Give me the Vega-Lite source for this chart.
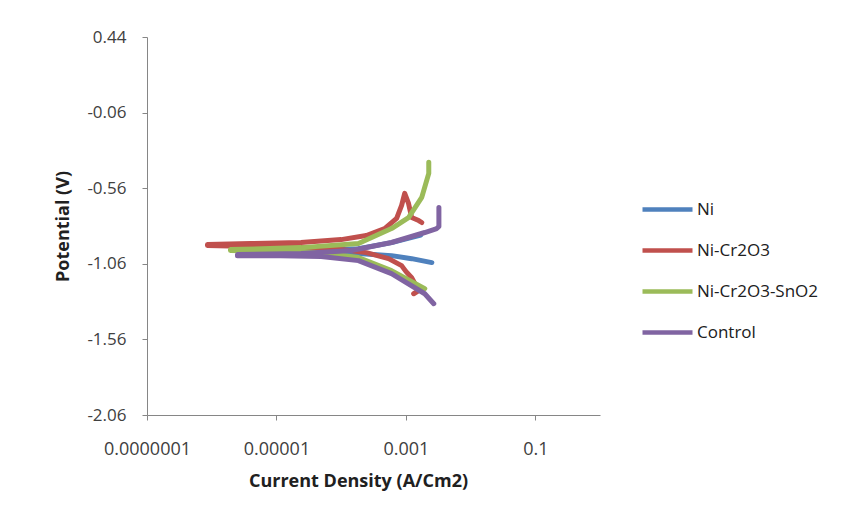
{
  "$schema": "https://vega.github.io/schema/vega-lite/v6.json",
  "width": 453,
  "height": 378,
  "autosize": {"type": "none"},
  "padding": {"left": 147, "top": 37, "right": 254, "bottom": 104},
  "background": "white",
  "config": {
    "view": {"stroke": null},
    "font": "Open Sans"
  },
  "data": {
    "values": [
      {"series": "Ni", "i": 1, "current": 2.52e-3, "potential": -1.052},
      {"series": "Ni", "i": 2, "current": 1.23e-3, "potential": -1.026},
      {"series": "Ni", "i": 3, "current": 6.0e-4, "potential": -1.006},
      {"series": "Ni", "i": 4, "current": 1.85e-4, "potential": -0.992},
      {"series": "Ni", "i": 5, "current": 2.4e-5, "potential": -0.986},
      {"series": "Ni", "i": 6, "current": 2.8e-6, "potential": -0.986},
      {"series": "Ni", "i": 7, "current": 2.8e-6, "potential": -0.979},
      {"series": "Ni", "i": 8, "current": 2.4e-5, "potential": -0.975},
      {"series": "Ni", "i": 9, "current": 1.85e-4, "potential": -0.96},
      {"series": "Ni", "i": 10, "current": 6.0e-4, "potential": -0.92},
      {"series": "Ni", "i": 11, "current": 1.7e-3, "potential": -0.87},

      {"series": "Ni-Cr2O3", "i": 1, "current": 1.32e-3, "potential": -1.258},
      {"series": "Ni-Cr2O3", "i": 2, "current": 1.58e-3, "potential": -1.238},
      {"series": "Ni-Cr2O3", "i": 3, "current": 1.23e-3, "potential": -1.152},
      {"series": "Ni-Cr2O3", "i": 4, "current": 1.0e-3, "potential": -1.11},
      {"series": "Ni-Cr2O3", "i": 5, "current": 8.6e-4, "potential": -1.072},
      {"series": "Ni-Cr2O3", "i": 6, "current": 5.4e-4, "potential": -1.026},
      {"series": "Ni-Cr2O3", "i": 7, "current": 2.45e-4, "potential": -0.986},
      {"series": "Ni-Cr2O3", "i": 8, "current": 1.0e-4, "potential": -0.966},
      {"series": "Ni-Cr2O3", "i": 9, "current": 2.4e-5, "potential": -0.953},
      {"series": "Ni-Cr2O3", "i": 10, "current": 4.0e-6, "potential": -0.946},
      {"series": "Ni-Cr2O3", "i": 11, "current": 8.6e-7, "potential": -0.939},
      {"series": "Ni-Cr2O3", "i": 12, "current": 8.6e-7, "potential": -0.933},
      {"series": "Ni-Cr2O3", "i": 13, "current": 4.0e-6, "potential": -0.926},
      {"series": "Ni-Cr2O3", "i": 14, "current": 2.4e-5, "potential": -0.919},
      {"series": "Ni-Cr2O3", "i": 15, "current": 1.0e-4, "potential": -0.9},
      {"series": "Ni-Cr2O3", "i": 16, "current": 2.45e-4, "potential": -0.873},
      {"series": "Ni-Cr2O3", "i": 17, "current": 4.7e-4, "potential": -0.827},
      {"series": "Ni-Cr2O3", "i": 18, "current": 7.2e-4, "potential": -0.76},
      {"series": "Ni-Cr2O3", "i": 19, "current": 8.6e-4, "potential": -0.674},
      {"series": "Ni-Cr2O3", "i": 20, "current": 9.6e-4, "potential": -0.594},
      {"series": "Ni-Cr2O3", "i": 21, "current": 1.1e-3, "potential": -0.661},
      {"series": "Ni-Cr2O3", "i": 22, "current": 1.23e-3, "potential": -0.754},
      {"series": "Ni-Cr2O3", "i": 23, "current": 1.58e-3, "potential": -0.774},
      {"series": "Ni-Cr2O3", "i": 24, "current": 1.76e-3, "potential": -0.787},

      {"series": "Ni-Cr2O3-SnO2", "i": 1, "current": 1.96e-3, "potential": -1.224},
      {"series": "Ni-Cr2O3-SnO2", "i": 2, "current": 6.0e-4, "potential": -1.105},
      {"series": "Ni-Cr2O3-SnO2", "i": 3, "current": 1.85e-4, "potential": -1.019},
      {"series": "Ni-Cr2O3-SnO2", "i": 4, "current": 4.9e-5, "potential": -0.986},
      {"series": "Ni-Cr2O3-SnO2", "i": 5, "current": 1.17e-5, "potential": -0.979},
      {"series": "Ni-Cr2O3-SnO2", "i": 6, "current": 1.95e-6, "potential": -0.972},
      {"series": "Ni-Cr2O3-SnO2", "i": 7, "current": 1.95e-6, "potential": -0.966},
      {"series": "Ni-Cr2O3-SnO2", "i": 8, "current": 2.4e-5, "potential": -0.953},
      {"series": "Ni-Cr2O3-SnO2", "i": 9, "current": 1.85e-4, "potential": -0.926},
      {"series": "Ni-Cr2O3-SnO2", "i": 10, "current": 6.0e-4, "potential": -0.827},
      {"series": "Ni-Cr2O3-SnO2", "i": 11, "current": 1.1e-3, "potential": -0.754},
      {"series": "Ni-Cr2O3-SnO2", "i": 12, "current": 1.76e-3, "potential": -0.621},
      {"series": "Ni-Cr2O3-SnO2", "i": 13, "current": 2.26e-3, "potential": -0.462},
      {"series": "Ni-Cr2O3-SnO2", "i": 14, "current": 2.26e-3, "potential": -0.389},

      {"series": "Control", "i": 1, "current": 2.7e-3, "potential": -1.324},
      {"series": "Control", "i": 2, "current": 1.96e-3, "potential": -1.258},
      {"series": "Control", "i": 3, "current": 6.0e-4, "potential": -1.125},
      {"series": "Control", "i": 4, "current": 1.85e-4, "potential": -1.039},
      {"series": "Control", "i": 5, "current": 4.9e-5, "potential": -1.012},
      {"series": "Control", "i": 6, "current": 1.17e-5, "potential": -1.006},
      {"series": "Control", "i": 7, "current": 2.5e-6, "potential": -1.006},
      {"series": "Control", "i": 8, "current": 2.5e-6, "potential": -0.999},
      {"series": "Control", "i": 9, "current": 2.4e-5, "potential": -0.992},
      {"series": "Control", "i": 10, "current": 1.44e-4, "potential": -0.972},
      {"series": "Control", "i": 11, "current": 6.0e-4, "potential": -0.919},
      {"series": "Control", "i": 12, "current": 1.96e-3, "potential": -0.853},
      {"series": "Control", "i": 13, "current": 3.0e-3, "potential": -0.827},
      {"series": "Control", "i": 14, "current": 3.24e-3, "potential": -0.813},
      {"series": "Control", "i": 15, "current": 3.24e-3, "potential": -0.687}
    ]
  },
  "mark": {"type": "line", "strokeWidth": 5, "strokeJoin": "round", "strokeCap": "round", "clip": true},
  "encoding": {
    "x": {
      "field": "current",
      "type": "quantitative",
      "scale": {"type": "log", "domain": [1e-7, 1], "nice": false},
      "axis": {
        "title": "Current Density (A/Cm2)",
        "values": [1e-7, 1e-5, 1e-3, 1e-1],
        "format": ".7~f",
        "grid": false,
        "labelFlush": false,
        "labelOverlap": false,
        "domainColor": "#868686",
        "tickColor": "#868686",
        "tickSize": 5,
        "labelFontSize": 18,
        "labelColor": "#404040",
        "labelPadding": 20,
        "titleFontSize": 18,
        "titleFontWeight": "bold",
        "titleColor": "#202020",
        "titlePadding": 14,
        "titleX": 211
      }
    },
    "y": {
      "field": "potential",
      "type": "quantitative",
      "scale": {"domain": [-2.06, 0.44], "nice": false, "zero": false},
      "axis": {
        "title": "Potential (V)",
        "values": [-2.06, -1.56, -1.06, -0.56, -0.06, 0.44],
        "labelExpr": "'' + datum.value",
        "grid": false,
        "labelFlush": false,
        "labelOverlap": false,
        "domainColor": "#868686",
        "tickColor": "#868686",
        "tickSize": 5,
        "labelFontSize": 17,
        "labelColor": "#404040",
        "labelPadding": 16,
        "titleFontSize": 18,
        "titleFontWeight": "bold",
        "titleColor": "#202020",
        "titlePadding": 14
      }
    },
    "color": {
      "field": "series",
      "type": "nominal",
      "sort": ["Ni", "Ni-Cr2O3", "Ni-Cr2O3-SnO2", "Control"],
      "scale": {
        "domain": ["Ni", "Ni-Cr2O3", "Ni-Cr2O3-SnO2", "Control"],
        "range": ["#4F81BD", "#C0504D", "#9BBB59", "#8064A2"]
      },
      "legend": {
        "title": null,
        "orient": "none",
        "legendX": 493,
        "legendY": 145,
        "symbolType": "stroke",
        "symbolStrokeWidth": 4.5,
        "symbolSize": 2500,
        "labelFontSize": 17,
        "labelColor": "#202020",
        "labelOffset": 2,
        "rowPadding": 4
      }
    },
    "order": {"field": "i", "type": "quantitative"}
  }
}
